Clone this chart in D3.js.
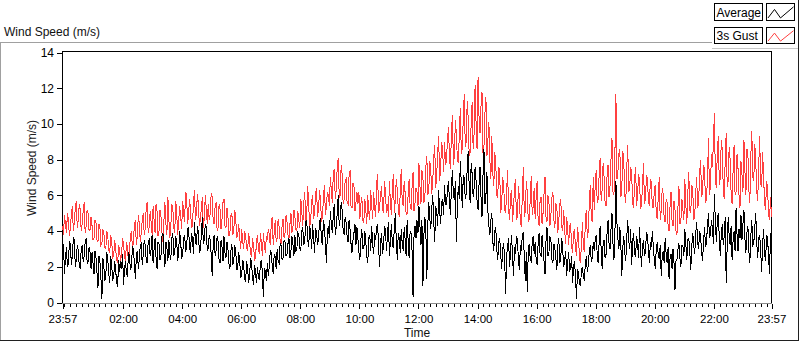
<!DOCTYPE html>
<html><head><meta charset="utf-8">
<script src="https://cdn.jsdelivr.net/npm/d3@7"></script>
<style>
body{margin:0;background:#fff}
svg{display:block;font-family:"Liberation Sans",Arial,sans-serif}
</style>
</head><body>
<svg id="c" width="800" height="342"></svg>
<script>
// Sampling: every 2 minutes from 23:57 to 23:57 next day (24 h), one row per hour
const spanMinutes = 1440;
const gust = [
4.3,3.8,4.9,4.4,3.9,5.0,4.6,3.7,4.2,4.9,5.4,4.0,4.5,5.3,5.7,4.2,4.6,5.5,5.2,4.0,4.4,5.1,5.6,3.9,4.3,5.2,5.0,4.0,4.1,4.8,
4.3,3.5,3.6,4.6,4.5,3.5,3.4,4.4,4.2,3.2,3.3,4.1,3.9,3.1,3.0,4.0,3.7,2.9,2.8,3.8,3.4,2.5,2.6,3.5,3.0,2.4,2.2,3.2,2.9,2.3,
2.7,3.6,3.3,2.5,2.4,3.4,3.0,2.3,2.9,3.8,4.0,3.1,3.3,4.4,4.6,3.2,3.7,4.9,4.4,3.4,3.9,4.6,5.0,3.8,4.1,5.3,5.6,3.9,4.2,5.1,
4.5,3.8,5.4,4.6,3.9,5.5,5.1,3.7,4.0,5.2,4.8,3.9,3.4,4.6,5.6,4.4,3.8,5.9,4.7,3.6,4.3,5.5,5.3,4.2,3.9,5.7,5.0,3.8,4.6,5.4,
4.8,4.1,5.7,5.0,4.5,6.2,6.0,4.4,4.9,5.8,5.2,4.2,4.3,5.6,6.3,4.6,5.0,6.1,5.5,4.3,4.6,5.3,5.9,4.2,4.7,6.0,5.3,4.4,5.5,4.6,
5.0,6.1,5.9,4.6,4.4,5.4,5.6,4.0,4.2,5.5,5.2,4.1,4.7,5.6,5.8,4.3,4.2,5.3,4.8,3.7,3.9,4.9,5.0,3.8,4.1,5.2,4.6,3.6,3.8,4.4,
3.6,3.0,4.1,3.4,3.0,4.0,3.7,3.1,2.9,3.9,3.4,2.7,2.6,3.6,3.2,2.4,2.5,3.4,3.8,3.0,2.7,3.9,3.3,2.6,3.9,3.2,2.8,3.7,3.5,4.1,
3.8,3.2,4.4,4.8,3.2,3.9,4.6,3.4,3.6,4.7,4.2,3.5,3.3,4.3,4.7,3.6,3.9,4.9,4.5,3.8,3.6,4.4,5.0,3.9,4.2,5.2,4.8,4.1,4.0,5.1,
4.6,4.2,5.8,5.1,4.3,5.6,6.2,4.5,4.9,6.5,5.5,4.3,4.5,5.7,6.0,4.7,5.0,6.1,6.4,4.8,5.2,6.3,5.8,4.5,4.8,5.9,6.6,4.9,5.4,6.2,
6.0,5.4,7.0,6.3,5.6,7.2,7.5,5.8,6.3,7.6,8.1,5.9,6.0,7.7,7.2,5.5,5.8,6.8,6.9,5.6,5.5,7.1,7.4,5.4,5.3,6.7,6.5,5.1,5.6,6.2,
5.5,6.2,4.7,5.5,5.9,4.6,4.5,5.8,5.2,4.4,6.0,5.1,4.6,6.3,5.4,4.7,6.2,5.3,4.8,6.6,7.2,5.0,5.3,6.0,6.5,5.2,5.0,6.8,6.1,5.0,
5.5,4.8,6.8,5.6,4.9,6.4,7.2,5.0,5.8,6.9,6.3,5.2,4.8,6.2,7.5,5.6,5.4,6.8,6.1,4.9,5.0,6.0,6.9,5.4,5.2,6.5,7.3,5.1,5.6,6.4,
6.2,5.4,7.8,6.5,5.5,7.4,7.0,5.6,5.9,7.6,8.2,6.0,6.3,7.9,7.4,6.1,6.8,8.1,8.8,6.4,7.1,8.4,9.3,6.8,7.5,9.0,8.6,7.3,9.0,7.7,
8.0,9.2,9.8,8.1,7.5,9.6,10.5,7.7,8.3,10.2,9.4,8.0,7.8,9.5,10.9,8.3,8.6,10.4,11.7,8.7,9.0,11.3,10.3,8.2,8.4,10.0,11.2,8.6,9.5,12.2,
10.0,8.6,12.6,10.4,9.5,11.0,11.8,8.4,8.7,10.6,11.5,8.2,9.1,10.1,8.0,6.9,9.3,7.2,6.5,8.4,7.8,6.0,5.9,7.6,7.3,5.0,5.5,7.0,6.6,5.2,
5.0,6.2,7.4,5.2,4.6,6.0,6.3,4.5,5.3,6.4,6.9,4.6,4.8,6.5,5.9,4.4,4.3,6.1,7.6,4.8,5.1,6.8,6.2,4.5,4.7,5.8,7.1,4.9,5.4,6.4,
4.7,5.9,6.8,4.6,4.3,5.7,5.9,4.4,5.0,6.1,7.0,4.8,4.5,6.0,5.6,4.3,4.9,5.9,6.2,4.6,4.2,5.5,5.4,3.9,4.6,5.5,5.8,4.2,4.0,5.2,
4.0,3.3,4.8,4.1,3.2,4.3,4.4,3.1,2.8,3.9,4.1,3.0,2.6,4.2,3.7,2.5,2.2,3.3,4.5,3.0,2.9,4.6,5.2,3.6,4.0,5.6,6.6,4.7,4.5,7.0,
5.2,6.6,7.4,5.6,5.8,7.2,8.1,5.7,6.3,7.8,7.0,5.6,5.4,7.1,7.7,5.9,6.5,8.0,9.2,6.2,6.0,8.4,11.7,6.9,7.3,8.3,8.6,5.9,6.4,8.5,
7.9,6.0,5.6,7.5,8.8,6.2,6.4,7.6,7.2,5.6,5.3,6.9,7.6,5.4,6.0,7.2,6.8,5.3,5.4,6.6,7.8,5.5,5.8,7.1,7.0,5.6,5.5,6.9,6.7,5.3,
5.3,6.3,6.6,4.9,4.7,5.9,7.0,4.6,5.1,6.4,6.1,4.7,4.5,5.8,5.6,4.3,4.0,5.4,6.2,4.6,4.3,5.7,5.2,4.0,3.8,5.3,6.5,4.4,4.6,5.8,
5.2,4.6,6.9,5.5,4.4,6.1,7.3,5.2,5.0,6.6,6.4,4.6,4.8,6.1,7.0,5.3,5.6,7.2,8.0,5.9,6.2,7.7,7.4,5.6,5.8,7.0,9.2,6.0,6.5,8.3,
7.6,9.0,10.6,7.0,6.4,8.5,9.3,6.6,7.0,9.1,8.6,6.4,5.8,8.0,9.5,6.5,6.8,8.7,8.0,6.1,5.5,7.4,8.8,6.0,6.2,8.3,7.5,6.0,5.3,7.9,
7.2,6.2,9.1,7.4,6.0,8.6,8.4,6.3,5.6,8.2,9.6,7.0,6.8,8.9,8.0,6.2,5.7,7.6,9.3,6.6,6.5,8.4,7.0,5.6,5.2,6.8,6.4,5.0,4.6,5.9,
4.8
];
const average = [
2.4,3.3,1.6,2.5,3.1,2.0,2.2,3.4,3.3,2.1,2.6,3.6,3.5,2.0,2.4,3.2,2.9,2.1,1.9,3.0,3.2,2.3,2.6,3.4,3.6,2.2,2.3,3.1,2.8,1.9,
2.8,2.2,1.6,2.9,2.5,1.7,0.8,2.6,2.3,1.4,0.2,2.5,2.0,1.2,1.5,2.8,2.4,1.6,1.1,2.6,2.0,1.3,1.4,2.3,1.8,1.1,0.9,2.4,1.7,2.3,
1.9,2.7,1.0,1.9,2.3,1.6,1.5,2.8,2.6,1.8,2.0,3.1,3.0,2.2,1.3,2.6,2.9,1.9,2.4,3.2,3.3,2.1,2.7,3.5,3.2,2.4,2.2,3.4,3.5,2.6,
3.0,3.8,2.2,3.0,3.6,2.5,1.9,3.4,3.3,2.4,2.6,3.7,3.9,2.8,2.0,3.4,3.1,2.3,3.5,2.7,2.4,3.6,3.9,2.6,2.8,3.7,3.4,2.3,2.9,4.0,
3.4,2.5,2.6,3.6,3.8,2.9,3.0,4.1,4.2,3.1,2.8,3.9,3.6,2.7,4.5,3.4,3.2,4.3,3.9,2.8,2.9,3.8,4.8,3.3,3.5,4.4,4.2,2.9,3.0,3.8,
3.5,2.7,1.5,3.2,3.8,2.6,2.9,3.7,3.4,2.4,2.2,3.5,3.1,2.3,3.7,2.8,2.5,3.4,3.0,2.2,1.9,2.9,3.3,2.1,2.4,3.2,2.8,1.8,2.0,2.8,
2.3,1.4,1.6,2.4,2.1,1.3,1.2,2.3,1.9,1.1,1.5,2.5,2.2,1.4,1.0,2.1,1.7,1.1,2.0,1.4,1.3,2.2,2.4,1.6,0.3,1.9,1.8,1.2,2.2,1.5,
2.0,2.9,2.8,2.0,1.6,2.7,2.6,1.9,3.0,2.3,2.2,3.3,3.2,2.4,2.5,3.5,3.4,2.6,2.7,3.3,3.6,2.5,2.9,3.7,3.3,2.6,3.8,2.9,3.0,3.9,
3.8,3.0,2.9,4.0,4.2,3.2,3.4,4.5,4.6,3.5,3.1,4.3,3.9,3.0,4.4,3.6,2.8,4.1,4.0,3.2,3.6,4.5,4.7,3.4,3.3,4.6,4.2,3.3,2.2,3.9,
4.3,3.6,5.1,4.4,3.9,4.9,5.5,3.8,4.2,5.0,6.0,4.3,4.7,5.6,5.2,4.0,3.8,4.8,4.5,3.7,3.4,4.6,4.1,3.3,2.8,3.5,3.9,4.4,3.2,4.2,
3.6,2.8,2.4,3.5,4.1,3.0,3.0,4.0,3.4,2.6,2.2,3.6,3.8,2.9,4.3,3.2,2.7,3.9,3.5,4.2,4.4,3.1,2.0,3.4,3.9,2.7,3.2,4.3,4.0,2.9,
3.8,4.5,2.6,3.5,4.4,3.2,3.1,4.2,5.0,3.4,2.4,3.9,3.6,2.8,4.1,3.3,2.9,4.2,3.5,2.6,4.6,3.5,2.5,4.0,3.9,2.9,0.3,3.7,4.3,3.6,
4.6,3.9,5.4,4.3,3.2,4.6,0.9,3.8,4.8,4.0,1.3,4.4,5.6,4.7,4.1,5.3,6.0,4.5,3.4,5.4,5.1,4.3,6.3,5.1,4.4,5.6,5.8,4.9,6.6,5.5,
5.5,6.3,6.8,5.6,4.9,6.5,7.4,5.9,5.8,6.8,3.4,5.5,6.5,5.8,7.9,6.6,5.3,7.1,7.0,5.8,6.1,7.6,8.5,6.4,5.6,7.8,7.2,5.9,6.4,7.6,
6.8,5.7,5.2,6.6,7.6,5.9,4.8,7.1,8.6,5.5,6.0,7.3,5.1,4.3,3.8,4.6,5.0,3.4,2.9,4.0,4.2,3.0,2.4,3.4,3.6,2.7,1.9,3.0,3.3,2.5,
0.5,2.6,3.1,3.6,2.0,2.9,3.8,2.6,1.5,3.1,2.7,3.7,3.5,2.4,1.8,3.2,2.9,3.8,3.9,2.5,1.2,2.8,0.6,2.9,3.3,2.4,2.3,3.4,3.7,2.7,
3.4,2.4,2.1,3.3,3.9,2.7,2.6,3.8,3.1,2.3,1.6,3.4,4.2,2.6,2.8,3.7,3.5,2.4,2.2,3.3,3.0,2.5,1.8,3.2,3.6,2.2,2.5,3.6,2.9,2.0,
2.4,2.9,1.5,2.2,2.8,1.8,1.9,2.6,1.1,2.0,2.3,1.4,0.2,1.9,1.6,1.1,0.9,1.8,2.0,1.4,1.3,2.2,2.6,1.7,2.1,2.9,3.2,2.3,2.5,3.4,
2.9,3.5,3.8,2.7,2.2,3.4,4.3,3.0,1.9,3.3,3.5,2.5,2.7,3.9,4.6,3.3,3.0,4.1,5.0,3.3,2.4,3.9,6.8,4.5,3.6,3.0,4.2,3.3,1.5,3.1,
3.7,2.8,2.3,3.6,4.6,3.5,3.0,4.1,2.1,3.4,3.9,2.7,2.6,3.7,3.3,2.5,4.2,3.0,2.0,3.2,3.5,2.6,2.8,3.9,3.8,2.9,2.2,3.4,3.1,4.0,
3.1,2.4,1.9,3.0,3.4,2.6,2.5,3.2,1.5,2.6,2.9,2.2,3.6,2.7,2.2,3.1,1.3,2.5,2.7,1.9,3.0,2.2,0.7,2.3,2.4,3.0,3.3,2.5,2.0,3.2,
3.2,2.6,4.1,3.3,2.4,3.5,3.6,2.9,1.8,3.1,3.9,3.2,2.7,3.8,4.5,3.4,3.0,4.0,3.7,2.8,2.3,3.4,4.2,3.1,3.4,4.3,5.0,3.6,3.8,4.6,
4.2,3.3,6.1,4.5,3.4,4.6,5.0,3.6,2.6,3.8,4.4,3.2,3.7,4.8,1.1,3.2,4.8,3.7,3.2,4.3,2.4,3.5,4.0,2.9,5.3,3.8,2.9,4.1,3.6,4.9,
3.5,4.4,5.2,3.6,2.8,3.9,4.3,2.9,2.2,3.7,4.6,3.2,3.3,4.2,5.0,3.4,2.5,3.6,3.8,2.9,1.7,3.3,4.1,2.7,2.3,3.8,3.6,2.6,1.6,3.9,
3.4
];
const xTickLabels = ["23:57","02:00","04:00","06:00","08:00","10:00","12:00","14:00","16:00","18:00","20:00","22:00","23:57"];
const xTickMinutes = [0,123,243,363,483,603,723,843,963,1083,1203,1323,1440];
const yTicks = [0,2,4,6,8,10,12,14];
const seriesNames = ["Average","3s Gust"];
const seriesColors = ["#000000","#ff4040"];

const svg = d3.select("#c");
const L = 62, R = 772, T = 51, B = 303;
const x = d3.scaleLinear().domain([0, spanMinutes]).range([L + 0.5, R - 0.5]);
const y = d3.scaleLinear().domain([0, 14]).range([B - 0.5, T + 1.5]);

// outer frame
svg.append("line").attr("x1",0).attr("x2",712).attr("y1",42.5).attr("y2",42.5).attr("stroke","#a0a0a0");
svg.append("line").attr("x1",0.5).attr("x2",0.5).attr("y1",42).attr("y2",341).attr("stroke","#a0a0a0");
svg.append("line").attr("x1",0).attr("x2",799).attr("y1",340.5).attr("y2",340.5).attr("stroke","#202020");
svg.append("line").attr("x1",798.5).attr("x2",798.5).attr("y1",0).attr("y2",341).attr("stroke","#202020");

// chart title
svg.append("text").attr("x",4).attr("y",36).attr("font-size",12).attr("fill","#111").text("Wind Speed (m/s)");

// plot frame
svg.append("line").attr("x1",L).attr("x2",R).attr("y1",T+0.5).attr("y2",T+0.5).attr("stroke","#000");
svg.append("line").attr("x1",L+0.5).attr("x2",L+0.5).attr("y1",T).attr("y2",B+1).attr("stroke","#000");
svg.append("line").attr("x1",R-0.5).attr("x2",R-0.5).attr("y1",T).attr("y2",B+1).attr("stroke","#000");

function seriesLine(arr){
  const step = spanMinutes / (arr.length - 1);
  return d3.line().x((d,i)=>x(i*step)).y(d=>y(d))(arr);
}
const plot = svg.append("g");
plot.append("path").attr("d",seriesLine(gust)).attr("fill","none").attr("stroke",seriesColors[1]).attr("stroke-width",1).attr("shape-rendering","crispEdges");
plot.append("path").attr("d",seriesLine(average)).attr("fill","none").attr("stroke",seriesColors[0]).attr("stroke-width",1).attr("shape-rendering","crispEdges");

// bottom gray line
svg.append("line").attr("x1",L).attr("x2",R).attr("y1",B+0.5).attr("y2",B+0.5).attr("stroke","#8c8c8c");

// y axis
const yAxis = d3.axisLeft(y).tickValues(yTicks).tickSize(5).tickPadding(3).tickFormat(d3.format("d"));
const gy = svg.append("g").attr("transform",`translate(${L},0)`).call(yAxis);
gy.select(".domain").remove();
gy.selectAll("line").attr("stroke","#000").attr("shape-rendering","crispEdges");
gy.selectAll("text").attr("font-size",12).attr("fill","#000").attr("font-family","Liberation Sans, Arial, sans-serif");

// x axis major
const xAxis = d3.axisBottom(x).tickValues(xTickMinutes).tickSize(5).tickPadding(5.5)
  .tickFormat((d,i)=>xTickLabels[i]);
const gx = svg.append("g").attr("transform",`translate(0,${B+1})`).call(xAxis);
gx.select(".domain").remove();
gx.selectAll("line").attr("stroke","#000").attr("shape-rendering","crispEdges");
gx.selectAll("text").attr("font-size",11.5).attr("fill","#000").attr("font-family","Liberation Sans, Arial, sans-serif");

// x axis minor ticks every 12 minutes on the clock
const minorTicks = d3.range(3, 1441, 12);
const xMinor = d3.axisBottom(x).tickValues(minorTicks).tickSize(3).tickFormat("");
const gm = svg.append("g").attr("transform",`translate(0,${B+1})`).call(xMinor);
gm.select(".domain").remove();
gm.selectAll("line").attr("stroke","#000").attr("shape-rendering","crispEdges");

// axis titles
svg.append("text").attr("transform","translate(36,168) rotate(-90)").attr("text-anchor","middle")
  .attr("font-size",12).attr("fill","#222").text("Wind Speed (m/s)");
svg.append("text").attr("x",417).attr("y",337).attr("text-anchor","middle")
  .attr("font-size",12).attr("fill","#111").text("Time");

// legend
svg.append("line").attr("x1",712).attr("x2",798).attr("y1",48.5).attr("y2",48.5).attr("stroke","#c8c8c8");
const leg = svg.append("g");
const rows = [{y:3, h:17},{y:27, h:16}];
const iconPts = [[1.5,0.85],[8,0.35],[14,0.85],[27,0.2]];
seriesNames.forEach((name,i)=>{
  const r = rows[i];
  leg.append("rect").attr("x",714.5).attr("y",r.y+0.5).attr("width",48).attr("height",r.h)
    .attr("fill","#fff").attr("stroke","#000");
  leg.append("text").attr("x",716.5).attr("y",r.y+r.h-3).attr("font-size",12).attr("fill","#000").text(name);
  leg.append("rect").attr("x",766.5).attr("y",r.y+0.5).attr("width",28).attr("height",r.h)
    .attr("fill","#fff").attr("stroke","#000");
  leg.append("polyline").attr("points", iconPts.map(p=>[766.5+p[0], r.y+0.5+p[1]*r.h].join(",")).join(" "))
    .attr("fill","none").attr("stroke",seriesColors[i]).attr("stroke-width",1);
});
</script>
</body></html>
